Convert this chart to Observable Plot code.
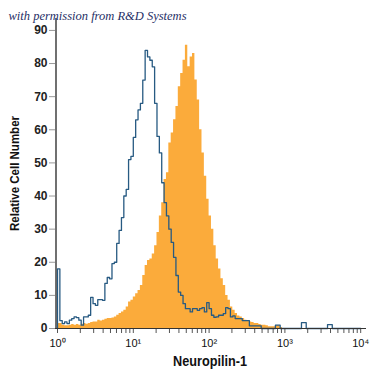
<!DOCTYPE html>
<html>
<head>
<meta charset="utf-8">
<script src="https://cdn.jsdelivr.net/npm/d3@7"></script>
<script src="https://cdn.jsdelivr.net/npm/@observablehq/plot@0.6"></script>
<style>
  html, body { margin: 0; padding: 0; background: #fff; }
  #chart svg { display: block; overflow: visible; }
</style>
</head>
<body>
<div id="chart"></div>
<script>
// ---- data ----
const binsPerDecade = 32;
const xDecades = [0, 1, 2, 3, 4];
const xTickLabels = ["10⁰", "10¹", "10²", "10³", "10⁴"];
const yTicks = [0, 10, 20, 30, 40, 50, 60, 70, 80, 90];
const yMax = 93.6;
const xLabel = "Neuropilin-1";
const yLabel = "Relative Cell Number";
const credit = "with permission from R&D Systems";

// isotype control (blue outline), one value per 1/32 decade starting at 10^0
const isotype = [
  18, 2.4, 1.5, 2, 1.5, 2.5, 3, 3.5, 3.3, 2.5,
  1, 3.5, 3.5, 4, 9.4, 7.5, 7, 8.7, 8.7, 8.5,
  13.6, 15.4, 15, 19.6, 20, 25.7, 29.6, 33.5, 40, 42,
  51, 52, 57.7, 63, 66, 68, 75, 84, 82, 81,
  79, 68, 58, 53, 44, 38, 34, 30, 26, 21.5,
  16, 11, 10, 7.5, 6, 6, 5, 6, 6, 5.5,
  6, 6.3, 5, 7.8, 6, 4, 3.4, 3.5, 4, 4,
  4.5, 6.3, 6, 3.5, 3.8, 3, 3, 3, 2.4, 2.4,
  2.4, 0.8, 0.8, 0.8, 0.8, 0.8, 0, 0, 0, 0,
  0, 0, 1, 1, 0, 0, 0, 0, 0, 0,
  0, 0, 0, 1.8, 1.8, 0, 0, 0, 0, 0,
  0, 0, 0, 0, 1.2, 1.2, 0, 0, 0, 0,
  0, 0, 0, 0, 0, 0, 0, 0
];

// Neuropilin-1 stained (orange filled)
const neuropilin = [
  1.5, 1.5, 1, 0.8, 0.8, 1, 1.2, 1, 1.2, 1,
  1.3, 1.5, 1.3, 1.5, 1.8, 2, 2, 2.5, 2.3, 2.5,
  2.8, 3, 3, 3.2, 3.5, 4, 4.5, 5, 5.5, 6.5,
  8, 8.5, 9.5, 10.5, 11.5, 13, 16, 19, 20.5, 21,
  22.5, 25, 29, 34, 38, 45, 47, 56, 59, 63,
  67, 73, 77, 81, 85.5, 79, 82, 83, 75, 69,
  60, 53, 46, 39, 34, 30, 25, 21, 18, 15,
  13, 10, 8.5, 6.5, 5.5, 4.5, 3.8, 3.5, 3, 2.5,
  2.2, 2, 1.8, 1.5, 1.5, 1.2, 1, 1, 0.8, 0.5,
  0.5, 0.5, 0.8, 0.8, 0.3, 0, 0, 0, 0, 0,
  0, 0, 0, 0, 0, 0, 0, 0, 0, 0,
  0, 0, 0, 0, 0, 0, 0, 0, 0, 0,
  0, 0, 0, 0, 0, 0, 0, 0
];

// ---- build step tables ----
function stepPoints(values) {
  const pts = [{x: 1, y: 0}];
  values.forEach((v, i) => pts.push({x: Math.pow(10, i / binsPerDecade), y: v}));
  const end = Math.pow(10, values.length / binsPerDecade);
  pts.push({x: end, y: 0});
  return pts;
}
const isoPts = stepPoints(isotype);
const nrpPts = stepPoints(neuropilin);

const xMin = 1, xMax = Math.pow(10, 4.103);
const minorTicks = [];
for (const d of xDecades) {
  for (let m = 1; m <= 9; m++) {
    const v = m * Math.pow(10, d);
    if (v <= 10000) minorTicks.push(v);
  }
}
const decadeValues = xDecades.map(d => Math.pow(10, d));

const fontBold = "'Liberation Sans', Arial, sans-serif";

const chart = Plot.plot({
  width: 375,
  height: 375,
  marginTop: 18,
  marginBottom: 47,
  marginLeft: 57,
  marginRight: 7,
  style: {background: "#fff", overflow: "visible"},
  x: {type: "log", domain: [xMin, xMax]},
  y: {domain: [0, yMax]},
  marks: [
    Plot.areaY(nrpPts, {x: "x", y: "y", curve: "step-after", fill: "#fbab3b"}),
    Plot.line(isoPts, {x: "x", y: "y", curve: "step-after", stroke: "#275a82", strokeWidth: 1.3}),
    Plot.axisX({
      ticks: minorTicks, tickSize: 5, tickPadding: 6, stroke: "#555",
      tickFormat: v => {
        const k = decadeValues.findIndex(d => Math.abs(d - v) < 1e-9 * d);
        return k >= 0 ? xTickLabels[k] : "";
      },
      fontSize: 11, fill: "#111", label: null,
      fontFamily: "'Liberation Sans', Arial, sans-serif"
    }),
    Plot.axisY({
      ticks: yTicks, tickSize: 6, tickPadding: 2, dx: -2, stroke: "#999",
      fontSize: 12, fontWeight: "bold", fill: "#222", label: null,
      fontFamily: fontBold
    }),
    Plot.ruleX([xMin], {dx: -1.5, y1: 0, y2: yMax, stroke: "#111", strokeWidth: 1.2}),
    Plot.ruleY([0], {x1: xMin, x2: xMax, dx: -2, stroke: "#333", strokeWidth: 1.2}),
    Plot.text([xLabel], {
      frameAnchor: "bottom", dy: 37, text: d => d, fontSize: 14, fontWeight: "bold",
      fill: "#111", fontFamily: fontBold, dx: -3
    }),
    Plot.text([yLabel], {
      frameAnchor: "left", textAnchor: "middle", rotate: -90, dx: -43, dy: 0, text: d => d,
      fontSize: 13, fontWeight: "bold", fill: "#111", fontFamily: fontBold
    }),
    Plot.text([credit], {
      frameAnchor: "top-left", textAnchor: "start", dx: -49, dy: -7, text: d => d,
      fontSize: 12, fontStyle: "italic", fill: "#1f2f66",
      fontFamily: "'Liberation Serif', 'DejaVu Serif', serif"
    })
  ]
});
document.getElementById("chart").appendChild(chart);

// condense the bold axis titles like the narrow face in the reference
d3.select(chart).selectAll("text").each(function() {
  const t = this.textContent;
  if (t === xLabel) d3.select(this).attr("textLength", 74).attr("lengthAdjust", "spacingAndGlyphs");
  if (t === yLabel) d3.select(this).attr("textLength", 115).attr("lengthAdjust", "spacingAndGlyphs");
  if (t === credit) d3.select(this).attr("textLength", 178).attr("lengthAdjust", "spacingAndGlyphs");
});
</script>
</body>
</html>
